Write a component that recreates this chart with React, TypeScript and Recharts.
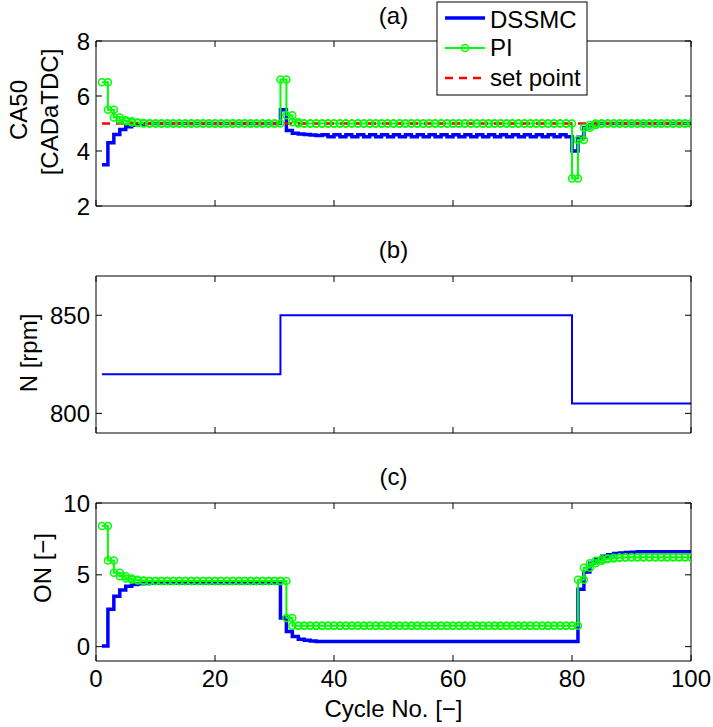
import React from 'react';
import { LineChart, Line, XAxis, YAxis } from 'recharts';

// ---------- data ----------
const cycles = Array.from({ length: 100 }, (_, i) => i + 1);
const xTicks = [0, 20, 40, 60, 80, 100];
const caTicks = [2, 4, 6, 8];
const nTicks = [800, 850];
const onTicks = [0, 5, 10];

const caDSSMC = [
  3.5, 4.3, 4.6, 4.78, 4.88, 4.94, 4.97,
  5, 5, 5, 5, 5, 5, 5, 5, 5, 5, 5, 5, 5, 5, 5, 5, 5, 5, 5, 5, 5, 5, 5,
  5.5, 4.75, 4.65, 4.62, 4.6, 4.58, 4.56,
  4.59, 4.52, 4.59, 4.52, 4.59, 4.52, 4.59, 4.52, 4.59, 4.52, 4.59, 4.52, 4.59, 4.52,
  4.59, 4.52, 4.59, 4.52, 4.59, 4.52, 4.59, 4.52, 4.59, 4.52, 4.59, 4.52, 4.59, 4.52,
  4.59, 4.52, 4.59, 4.52, 4.59, 4.52, 4.59, 4.52, 4.59, 4.52, 4.59, 4.52, 4.59, 4.52,
  4.0, 4.5, 4.85, 4.95,
  5, 5, 5, 5, 5, 5, 5, 5, 5, 5, 5, 5, 5, 5, 5, 5, 5,
];

const caPI = [
  6.5, 5.5, 5.22, 5.12, 5.08, 5.04, 5.02,
  5, 5, 5, 5, 5, 5, 5, 5, 5, 5, 5, 5, 5, 5, 5, 5, 5, 5, 5, 5, 5, 5, 5,
  6.6, 5.3, 5.05,
  5, 5, 5, 5, 5, 5, 5, 5, 5, 5, 5, 5, 5, 5, 5, 5, 5, 5, 5, 5, 5, 5, 5,
  5, 5, 5, 5, 5, 5, 5, 5, 5, 5, 5, 5, 5, 5, 5, 5, 5, 5, 5, 5, 5, 5, 5,
  3.0, 4.4, 4.85, 4.95,
  5, 5, 5, 5, 5, 5, 5, 5, 5, 5, 5, 5, 5, 5, 5, 5, 5,
];

const setPoint = [
  5, 5, 5, 5, 5, 5, 5, 5, 5, 5, 5, 5, 5, 5, 5, 5, 5, 5, 5, 5,
  5, 5, 5, 5, 5, 5, 5, 5, 5, 5, 5, 5, 5, 5, 5, 5, 5, 5, 5, 5,
  5, 5, 5, 5, 5, 5, 5, 5, 5, 5, 5, 5, 5, 5, 5, 5, 5, 5, 5, 5,
  5, 5, 5, 5, 5, 5, 5, 5, 5, 5, 5, 5, 5, 5, 5, 5, 5, 5, 5, 5,
  5, 5, 5, 5, 5, 5, 5, 5, 5, 5, 5, 5, 5, 5, 5, 5, 5, 5, 5, 5,
];

const speed = [
  820, 820, 820, 820, 820, 820, 820, 820, 820, 820,
  820, 820, 820, 820, 820, 820, 820, 820, 820, 820,
  820, 820, 820, 820, 820, 820, 820, 820, 820, 820,
  850, 850, 850, 850, 850, 850, 850, 850, 850, 850,
  850, 850, 850, 850, 850, 850, 850, 850, 850, 850,
  850, 850, 850, 850, 850, 850, 850, 850, 850, 850,
  850, 850, 850, 850, 850, 850, 850, 850, 850, 850,
  850, 850, 850, 850, 850, 850, 850, 850, 850,
  805, 805, 805, 805, 805, 805, 805, 805, 805, 805,
  805, 805, 805, 805, 805, 805, 805, 805, 805, 805, 805,
];

const onDSSMC = [
  0.05, 2.6, 3.5, 3.95, 4.2, 4.32, 4.38, 4.4,
  4.42, 4.42, 4.42, 4.42, 4.42, 4.42, 4.42, 4.42, 4.42, 4.42, 4.42,
  4.42, 4.42, 4.42, 4.42, 4.42, 4.42, 4.42, 4.42, 4.42, 4.42, 4.42,
  2.0, 1.05, 0.7, 0.52, 0.44, 0.4,
  0.36, 0.36, 0.36, 0.36, 0.36, 0.36, 0.36, 0.36, 0.36, 0.36, 0.36,
  0.36, 0.36, 0.36, 0.36, 0.36, 0.36, 0.36, 0.36, 0.36, 0.36, 0.36,
  0.36, 0.36, 0.36, 0.36, 0.36, 0.36, 0.36, 0.36, 0.36, 0.36, 0.36,
  0.36, 0.36, 0.36, 0.36, 0.36, 0.36, 0.36, 0.36, 0.36, 0.36, 0.36,
  4.0, 5.2, 5.8, 6.1, 6.3, 6.4, 6.48, 6.52, 6.55, 6.57,
  6.6, 6.6, 6.6, 6.6, 6.6, 6.6, 6.6, 6.6, 6.6, 6.6, 6.6,
];

const onPI = [
  8.4, 6.0, 5.15, 4.9, 4.75, 4.65, 4.6,
  4.57, 4.57, 4.57, 4.57, 4.57, 4.57, 4.57, 4.57, 4.57, 4.57, 4.57, 4.57,
  4.57, 4.57, 4.57, 4.57, 4.57, 4.57, 4.57, 4.57, 4.57, 4.57, 4.57, 4.57,
  2.0,
  1.46, 1.46, 1.46, 1.46, 1.46, 1.46, 1.46, 1.46, 1.46, 1.46, 1.46, 1.46,
  1.46, 1.46, 1.46, 1.46, 1.46, 1.46, 1.46, 1.46, 1.46, 1.46, 1.46, 1.46,
  1.46, 1.46, 1.46, 1.46, 1.46, 1.46, 1.46, 1.46, 1.46, 1.46, 1.46, 1.46,
  1.46, 1.46, 1.46, 1.46, 1.46, 1.46, 1.46, 1.46, 1.46, 1.46, 1.46, 1.46,
  4.65, 5.5, 5.8, 5.98, 6.08, 6.14, 6.18, 6.2,
  6.22, 6.22, 6.22, 6.22, 6.22, 6.22, 6.22, 6.22, 6.22, 6.22, 6.22, 6.22,
];

// ---------- helpers ----------
const FONT = '"Liberation Sans", Arial, Helvetica, sans-serif';
const FS = 24;
const BLUE = '#0000ff';
const GREEN = '#00ff00';
const RED = '#ff0000';

// MATLAB-style stairs: every vertex of the staircase is a point
function stairs(values: number[]) {
  const pts: { x: number; y: number }[] = [];
  for (let i = 0; i < values.length; i++) {
    pts.push({ x: cycles[i], y: values[i] });
    if (i < values.length - 1) pts.push({ x: cycles[i + 1], y: values[i] });
  }
  return pts;
}

const leftTick = (p: any) => (
  <g>
    <line x1={p.x} x2={p.x + 6} y1={p.y} y2={p.y} stroke="#000" strokeWidth={1} />
    <text x={p.x - 6} y={p.y + 8.5} textAnchor="end" fontSize={FS} fontFamily={FONT} fill="#000">
      {p.payload.value}
    </text>
  </g>
);
const rightTick = (p: any) => (
  <line x1={p.x} x2={p.x - 6} y1={p.y} y2={p.y} stroke="#000" strokeWidth={1} />
);
const topTick = (p: any) => (
  <line x1={p.x} x2={p.x} y1={p.y} y2={p.y + 6} stroke="#000" strokeWidth={1} />
);
const bottomTick = (show: boolean) => (p: any) => (
  <g>
    <line x1={p.x} x2={p.x} y1={p.y} y2={p.y - 6} stroke="#000" strokeWidth={1} />
    {show && (
      <text x={p.x} y={p.y + 26} textAnchor="middle" fontSize={FS} fontFamily={FONT} fill="#000">
        {p.payload.value}
      </text>
    )}
  </g>
);

type PanelProps = {
  top: number;
  height: number;
  plotTop: number; // plot area top, relative to this panel
  plotBottom: number; // plot area bottom, relative to this panel
  domain: [number, number];
  ticks: number[];
  showXLabels: boolean;
  children: React.ReactNode;
};

const PLOT_LEFT = 96;
const PLOT_RIGHT = 691;
const W = 713;

function Panel({ top, height, plotTop, plotBottom, domain, ticks, showXLabels, children }: PanelProps) {
  // axes are 1px thick, so margins are 1px smaller than the plot edges
  const margin = {
    top: plotTop - 1,
    bottom: height - plotBottom - 1,
    left: PLOT_LEFT - 1,
    right: W - PLOT_RIGHT - 1,
  };
  return (
    <div style={{ position: 'absolute', left: 0, top, width: W, height }}>
      <LineChart width={W} height={height} margin={margin}>
        <XAxis
          xAxisId="b"
          dataKey="x"
          type="number"
          domain={[0, 100]}
          ticks={xTicks}
          interval={0}
          allowDataOverflow
          height={1}
          tickSize={0}
          tickMargin={0}
          axisLine={{ stroke: '#000', strokeWidth: 1 }}
          tickLine={false}
          tick={bottomTick(showXLabels)}
        />
        <XAxis
          xAxisId="t"
          orientation="top"
          dataKey="x"
          type="number"
          domain={[0, 100]}
          ticks={xTicks}
          interval={0}
          allowDataOverflow
          height={1}
          tickSize={0}
          tickMargin={0}
          axisLine={{ stroke: '#000', strokeWidth: 1 }}
          tickLine={false}
          tick={topTick}
        />
        <YAxis
          yAxisId="l"
          type="number"
          domain={domain}
          ticks={ticks}
          interval={0}
          allowDataOverflow
          width={1}
          tickSize={0}
          tickMargin={0}
          axisLine={{ stroke: '#000', strokeWidth: 1 }}
          tickLine={false}
          tick={leftTick}
        />
        <YAxis
          yAxisId="r"
          orientation="right"
          type="number"
          domain={domain}
          ticks={ticks}
          interval={0}
          allowDataOverflow
          width={1}
          tickSize={0}
          tickMargin={0}
          axisLine={{ stroke: '#000', strokeWidth: 1 }}
          tickLine={false}
          tick={rightTick}
        />
        {children}
      </LineChart>
    </div>
  );
}

const axisIds = { xAxisId: 'b', yAxisId: 'l' };

export default function App() {
  const t = { fontFamily: FONT, fontSize: FS, fill: '#000' } as const;
  return (
    <div
      style={{
        position: 'absolute',
        left: 0,
        top: 0,
        width: 713,
        height: 727,
        background: '#fff',
        fontFamily: FONT,
      }}
    >
      {/* (a) CA50 */}
      <Panel top={0} height={240} plotTop={41} plotBottom={206} domain={[2, 8]} ticks={caTicks} showXLabels={false}>
        <Line
          {...axisIds}
          data={stairs(caDSSMC)}
          dataKey="y"
          type="linear"
          stroke={BLUE}
          strokeWidth={3.5}
          dot={false}
          activeDot={false}
          isAnimationActive={false}
        />
        <Line
          {...axisIds}
          data={stairs(caPI)}
          dataKey="y"
          type="linear"
          stroke={GREEN}
          strokeWidth={2}
          dot={{ r: 3.5, stroke: GREEN, strokeWidth: 1.5, fill: 'none' }}
          activeDot={false}
          isAnimationActive={false}
        />
        <Line
          {...axisIds}
          data={stairs(setPoint)}
          dataKey="y"
          type="linear"
          stroke={RED}
          strokeWidth={2.5}
          strokeDasharray="8 6"
          dot={false}
          activeDot={false}
          isAnimationActive={false}
        />
      </Panel>

      {/* (b) N */}
      <Panel top={240} height={230} plotTop={36} plotBottom={193} domain={[790, 870]} ticks={nTicks} showXLabels={false}>
        <Line
          {...axisIds}
          data={stairs(speed)}
          dataKey="y"
          type="linear"
          stroke={BLUE}
          strokeWidth={2}
          dot={false}
          activeDot={false}
          isAnimationActive={false}
        />
      </Panel>

      {/* (c) ON */}
      <Panel top={470} height={257} plotTop={33} plotBottom={191} domain={[-1, 10]} ticks={onTicks} showXLabels={true}>
        <Line
          {...axisIds}
          data={stairs(onDSSMC)}
          dataKey="y"
          type="linear"
          stroke={BLUE}
          strokeWidth={3.5}
          dot={false}
          activeDot={false}
          isAnimationActive={false}
        />
        <Line
          {...axisIds}
          data={stairs(onPI)}
          dataKey="y"
          type="linear"
          stroke={GREEN}
          strokeWidth={2}
          dot={{ r: 3.5, stroke: GREEN, strokeWidth: 1.5, fill: 'none' }}
          activeDot={false}
          isAnimationActive={false}
        />
      </Panel>

      {/* titles, axis labels, legend */}
      <svg width={713} height={727} style={{ position: 'absolute', left: 0, top: 0, pointerEvents: 'none' }}>
        <text x={393.5} y={24} textAnchor="middle" {...t}>(a)</text>
        <text x={393.5} y={258} textAnchor="middle" {...t}>(b)</text>
        <text x={393.5} y={485} textAnchor="middle" {...t}>(c)</text>

        <text transform="translate(26.5,110) rotate(-90)" textAnchor="middle" {...t}>CA50</text>
        <text transform="translate(58,112) rotate(-90)" textAnchor="middle" {...t}>[CADaTDC]</text>
        <text transform="translate(37,353) rotate(-90)" textAnchor="middle" {...t}>N [rpm]</text>
        <text transform="translate(51,568) rotate(-90)" textAnchor="middle" {...t}>ON [−]</text>

        <text x={393.5} y={717} textAnchor="middle" {...t}>Cycle No. [−]</text>

        <rect x={437} y={2} width={150} height={93} fill="#fff" stroke="#000" strokeWidth={1} />
        <line x1={445} x2={485} y1={18} y2={18} stroke={BLUE} strokeWidth={3.5} />
        <text x={490} y={28} {...t}>DSSMC</text>
        <line x1={445} x2={485} y1={48} y2={48} stroke={GREEN} strokeWidth={2} />
        <circle cx={465} cy={48} r={3.5} stroke={GREEN} strokeWidth={1.5} fill="none" />
        <text x={490} y={56} {...t}>PI</text>
        <line x1={445} x2={485} y1={78} y2={78} stroke={RED} strokeWidth={2.5} strokeDasharray="8 6" />
        <text x={490} y={86} {...t}>set point</text>
      </svg>
    </div>
  );
}
